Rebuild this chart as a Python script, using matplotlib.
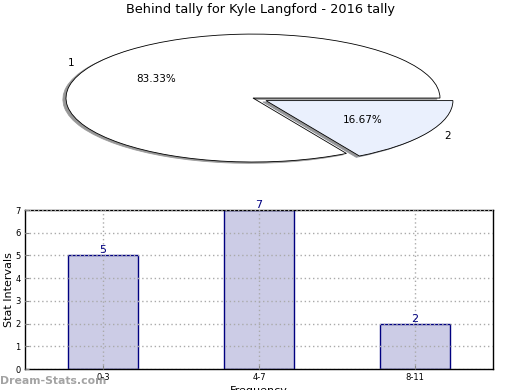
import matplotlib
matplotlib.use("Agg")
import matplotlib.pyplot as plt

title = "Behind tally for Kyle Langford - 2016 tally"
pie_labels = ["1", "2"]
pie_values = [83.33, 16.67]
pie_colors = ["#ffffff", "#eaf0fd"]

bar_cats = ["0-3", "4-7", "8-11"]
bar_vals = [5, 7, 2]

fig = plt.figure(figsize=(5.2, 3.9), dpi=100)

# Pie (stretched ellipse)
axp = fig.add_axes([0.037, 0.5436, 0.899, 0.41])
wedges, texts, autotexts = axp.pie(
    pie_values, labels=pie_labels, colors=pie_colors, explode=[0, 0.08],
    autopct="%1.2f%%", shadow=dict(ox=-0.012, oy=-0.015, shade=0.4),
    startangle=0, counterclock=True,
    wedgeprops=dict(edgecolor="black", linewidth=0.6),
    textprops=dict(fontsize=7.5, color="black"))
axp.set_aspect("auto")
axp.set_xlim(-1.25, 1.25)
axp.set_ylim(-1.25, 1.25)
for p in axp.patches:
    if type(p).__name__ == "Shadow":
        p.set_facecolor("#8c8c8c")
        p.set_alpha(0.9)
fig.text(0.5, 0.975, title, ha="center", va="center", fontsize=9.3)

# Bar chart
axb = fig.add_axes([0.048, 0.0538, 0.9, 0.4077])
x = list(range(len(bar_cats)))
bars = axb.bar(x, bar_vals, width=0.45, color="#ccccE6", edgecolor="#000080",
               linewidth=1.0, zorder=1)
for xi, v in zip(x, bar_vals):
    axb.text(xi, v, str(v), ha="center", va="bottom", fontsize=8,
             color="#000080")
axb.set_xlim(-0.5, 2.5)
axb.set_ylim(0, 7)
axb.set_xticks(x)
axb.set_xticklabels(bar_cats)
axb.set_yticks(range(0, 8))
axb.tick_params(axis="both", direction="in", labelsize=6, length=3,
                color="#888888", pad=3)
axb.grid(True, linestyle=(0, (1, 2)), color="#aaaaaa", linewidth=1.0, zorder=3)
axb.set_axisbelow(False)
axb.set_ylabel("Stat Intervals", fontsize=8, labelpad=1)
axb.set_xlabel("Frequency", fontsize=8, labelpad=3)
for s in axb.spines.values():
    s.set_linewidth(1.0)

fig.text(0.0, 0.024, "Dream-Stats.com", fontsize=7.8, color="#999999",
         ha="left", va="center", fontweight="bold", alpha=0.9)

fig.savefig("out.png", dpi=100)
